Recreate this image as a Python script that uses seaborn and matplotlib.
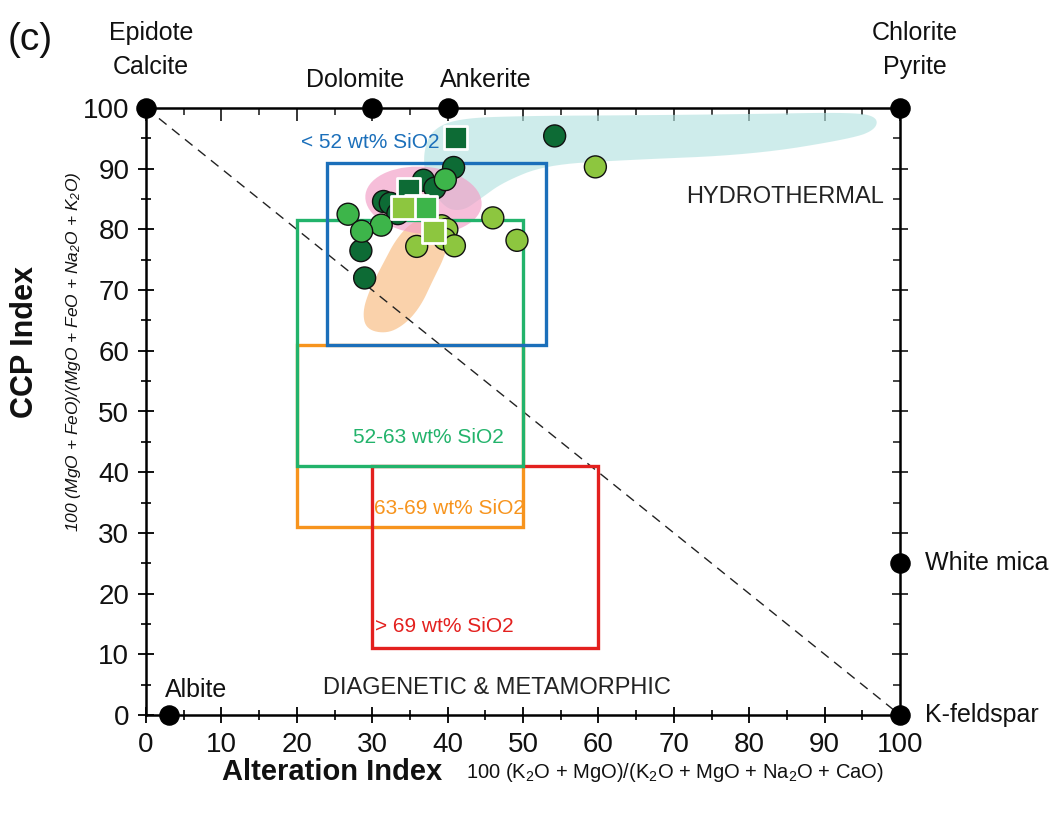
import numpy as np
import pandas as pd
import matplotlib
matplotlib.use("Agg")
import matplotlib.pyplot as plt
import seaborn as sns
from matplotlib import font_manager
from matplotlib.patches import Polygon, Ellipse, Rectangle

# ---------------- data ----------------
dark_circ_x = [54.2, 40.8, 36.8, 38.3, 31.5, 32.4, 33.4, 28.5, 29.0]
dark_circ_y = [95.4, 90.2, 88.1, 86.8, 84.6, 84.3, 82.6, 76.5, 72.0]
med_circ_x = [39.7, 26.8, 31.2, 28.6]
med_circ_y = [88.2, 82.5, 80.7, 79.7]
lime_circ_x = [59.6, 46.0, 49.2, 35.9, 39.2, 39.9, 39.6, 40.9]
lime_circ_y = [90.3, 81.9, 78.2, 77.2, 80.6, 80.0, 78.4, 77.3]

dark_sq_x = [41.0, 34.8, 35.9]
dark_sq_y = [95.2, 86.6, 83.8]
med_sq_x = [37.1]
med_sq_y = [83.6]
lime_sq_x = [34.1, 38.1]
lime_sq_y = [83.6, 79.6]

# SiO2 boxes: (x0, x1, y0, y1)
box_lt52 = (24, 53, 61, 91)
box_52_63 = (20, 50, 41, 81.5)
box_63_69 = (20, 50, 31, 61)
box_gt69 = (30, 60, 11, 41)

# mineral end-members
mineral_names = ["Epidote\nCalcite", "Dolomite", "Ankerite", "Chlorite\nPyrite",
                 "Albite", "White mica", "K-feldspar"]
mineral_x = [0, 30, 40, 100, 3, 100, 100]
mineral_y = [100, 100, 100, 100, 0, 25, 0]

# fields
hydro_field = [(37.0, 88.5), (36.8, 93.0), (38.0, 96.5), (41.5, 98.3), (50, 98.7),
               (65, 98.8), (80, 99.0), (94, 99.3), (97, 98.5), (96.8, 96.5),
               (93.8, 95.0), (80.5, 92.3), (63, 91.4), (53, 90.6), (47.4, 87.8),
               (44.3, 85.0), (42, 83.0), (39.5, 83.5)]
orange_field = [(29.2, 63.5), (28.7, 66.5), (29.8, 70.5), (31.5, 74.5), (33.2, 78.5),
                (35.5, 81.5), (38.5, 82.0), (40.3, 80), (39.8, 76), (38.0, 71.5),
                (36.5, 67.5), (34.5, 64.5), (32, 62.8)]
pink_center = (36.8, 84.8)
pink_size = (15.5, 11.0)

x_ticks = list(range(0, 101, 10))
y_ticks = list(range(0, 101, 10))

# ---------------- style ----------------
sns.set_theme(style="white")
avail = {f.name for f in font_manager.fontManager.ttflist}
narrow = "Liberation Sans Narrow" if "Liberation Sans Narrow" in avail else "Liberation Sans"
plt.rcParams["font.family"] = [narrow, "DejaVu Sans"]
plt.rcParams["mathtext.fontset"] = "custom"
plt.rcParams["mathtext.rm"] = narrow
plt.rcParams["mathtext.it"] = narrow + ":italic"

DARK = "#0d6b35"
MED = "#3db54a"
LIME = "#8dc63f"
INK = "#111111"


def chaikin(pts, n=3):
    p = np.asarray(pts, float)
    for _ in range(n):
        q = 0.75 * p + 0.25 * np.roll(p, -1, axis=0)
        r = 0.25 * p + 0.75 * np.roll(p, -1, axis=0)
        p = np.empty((2 * len(q), 2))
        p[0::2] = q
        p[1::2] = r
    return p


fig = plt.figure(figsize=(10.54, 8.13), dpi=100)
ax = fig.add_axes([146 / 1054, 1 - 715 / 813, 754 / 1054, 607 / 813])
ax.set_xlim(0, 100)
ax.set_ylim(0, 100)

# fields
ax.add_patch(Polygon(chaikin(orange_field), closed=True, facecolor="#f9c48f",
                     edgecolor="none", alpha=0.75, zorder=1))
ax.add_patch(Polygon(chaikin(hydro_field), closed=True, facecolor="#b5e3e1",
                     edgecolor="none", alpha=0.65, zorder=1))
ax.add_patch(Ellipse(pink_center, pink_size[0], pink_size[1], angle=-8,
                     facecolor="#f29cc6", edgecolor="none", alpha=0.65, zorder=1.2))

# diagonal dashed line
ax.plot([0, 100], [100, 0], color="#222222", lw=1.0, ls=(0, (7, 5)), zorder=2)

# boxes
for (x0, x1, y0, y1), c in [(box_63_69, "#f7941d"), (box_gt69, "#e3201e"),
                             (box_52_63, "#22b36b"), (box_lt52, "#1b6fba")]:
    ax.add_patch(Rectangle((x0, y0), x1 - x0, y1 - y0, fill=False, edgecolor=c,
                           lw=2.4, zorder=3))

ax.text(20.5, 94.3, "< 52 wt% SiO2", color="#1b6fba", fontsize=15, va="center", ha="left")
ax.text(37.5, 45.7, "52-63 wt% SiO2", color="#22b36b", fontsize=15, va="center", ha="center")
ax.text(40.3, 34.1, "63-69 wt% SiO2", color="#f7941d", fontsize=15, va="center", ha="center")
ax.text(39.5, 14.6, "> 69 wt% SiO2", color="#e3201e", fontsize=15, va="center", ha="center")
ax.text(84.8, 85.3, "HYDROTHERMAL", color="#222222", fontsize=17, va="center", ha="center")
ax.text(46.5, 4.5, "DIAGENETIC & METAMORPHIC", color="#222222", fontsize=17,
        va="center", ha="center")

# data points
circ = pd.DataFrame({
    "x": dark_circ_x + med_circ_x + lime_circ_x,
    "y": dark_circ_y + med_circ_y + lime_circ_y,
    "grp": ["dark"] * len(dark_circ_x) + ["med"] * len(med_circ_x) + ["lime"] * len(lime_circ_x),
})
sq = pd.DataFrame({
    "x": dark_sq_x + med_sq_x + lime_sq_x,
    "y": dark_sq_y + med_sq_y + lime_sq_y,
    "grp": ["dark"] * len(dark_sq_x) + ["med"] * len(med_sq_x) + ["lime"] * len(lime_sq_x),
})
pal = {"dark": DARK, "med": MED, "lime": LIME}
sns.scatterplot(data=circ, x="x", y="y", hue="grp", palette=pal, marker="o", s=250,
                edgecolor=INK, linewidth=1.0, legend=False, ax=ax, zorder=5)
sns.scatterplot(data=sq, x="x", y="y", hue="grp", palette=pal, marker="s", s=280,
                edgecolor="white", linewidth=2.0, legend=False, ax=ax, zorder=6)

# mineral end-members
ax.scatter(mineral_x, mineral_y, s=190, color="black", zorder=8, clip_on=False)
label_pos = {
    "Dolomite": (27.7, 104.6, "center"),
    "Ankerite": (45.1, 104.6, "center"),
    "Albite": (2.5, 4.1, "left"),
    "White mica": (103.3, 25, "left"),
    "K-feldspar": (103.3, 0, "left"),
}
for name in mineral_names:
    if name in label_pos:
        lx, ly, ha = label_pos[name]
        ax.text(lx, ly, name, fontsize=18, ha=ha, va="center", color=INK, clip_on=False)
fig.text(151 / 1054, 1 - 50 / 813, mineral_names[0], fontsize=18, ha="center",
         va="center", linespacing=1.55, color=INK)
fig.text(915 / 1054, 1 - 50 / 813, mineral_names[3], fontsize=18, ha="center",
         va="center", linespacing=1.55, color=INK)
fig.text(8 / 1054, 1 - 40 / 813, "(c)", fontsize=28, ha="left", va="center", color=INK)

# spines & ticks
for s in ax.spines.values():
    s.set_visible(True)
    s.set_color("black")
    s.set_linewidth(1.8)
ax.set_xticks(x_ticks)
ax.set_yticks(y_ticks)
ax.set_xticks(np.arange(5, 100, 10), minor=True)
ax.set_yticks(np.arange(5, 100, 10), minor=True)
ax.tick_params(axis="both", which="major", direction="inout", length=12, width=1.3,
               labelsize=20, color="black", labelcolor=INK, pad=6)
ax.tick_params(axis="both", which="minor", direction="inout", length=7, width=1.2,
               color="black")
ax.tick_params(axis="x", bottom=True, top=False, which="both")
ax.tick_params(axis="y", left=True, right=False, which="both")

topax = ax.secondary_xaxis("top")
topax.set_xticks(x_ticks)
topax.set_xticks(np.arange(5, 100, 10), minor=True)
topax.tick_params(which="major", direction="in", length=9, width=1.3, labeltop=False)
topax.tick_params(which="minor", direction="in", length=5, width=1.2)
topax.spines["top"].set_visible(False)
rax = ax.secondary_yaxis("right")
rax.set_yticks(y_ticks)
rax.set_yticks(np.arange(5, 100, 10), minor=True)
rax.tick_params(which="major", direction="inout", length=12, width=1.3, labelright=False)
rax.tick_params(which="minor", direction="in", length=5, width=1.2)
rax.spines["right"].set_visible(False)

ax.set_xlabel("")
ax.set_ylabel("")

# axis titles
fig.text(222 / 1054, 1 - 772 / 813, "Alteration Index", fontsize=21, fontweight="bold",
         ha="left", va="center", color=INK)
fig.text(466 / 1054, 1 - 772 / 813,
         r"100 (K$_\mathregular{2}$O + MgO)/(K$_\mathregular{2}$O + MgO + Na$_\mathregular{2}$O + CaO)",
         fontsize=14.5, ha="left", va="center", color=INK)
fig.text(25 / 1054, 1 - 342 / 813, "CCP Index", fontsize=22, fontweight="bold",
         rotation=90, ha="center", va="center", color=INK)
fig.text(74 / 1054, 1 - 352 / 813,
         r"100 (MgO + FeO)/(MgO + FeO + Na$_\mathregular{2}$O + K$_\mathregular{2}$O)",
         fontsize=12.5, style="italic", rotation=90, ha="center", va="center", color=INK)

fig.savefig("out.png", dpi=100)
